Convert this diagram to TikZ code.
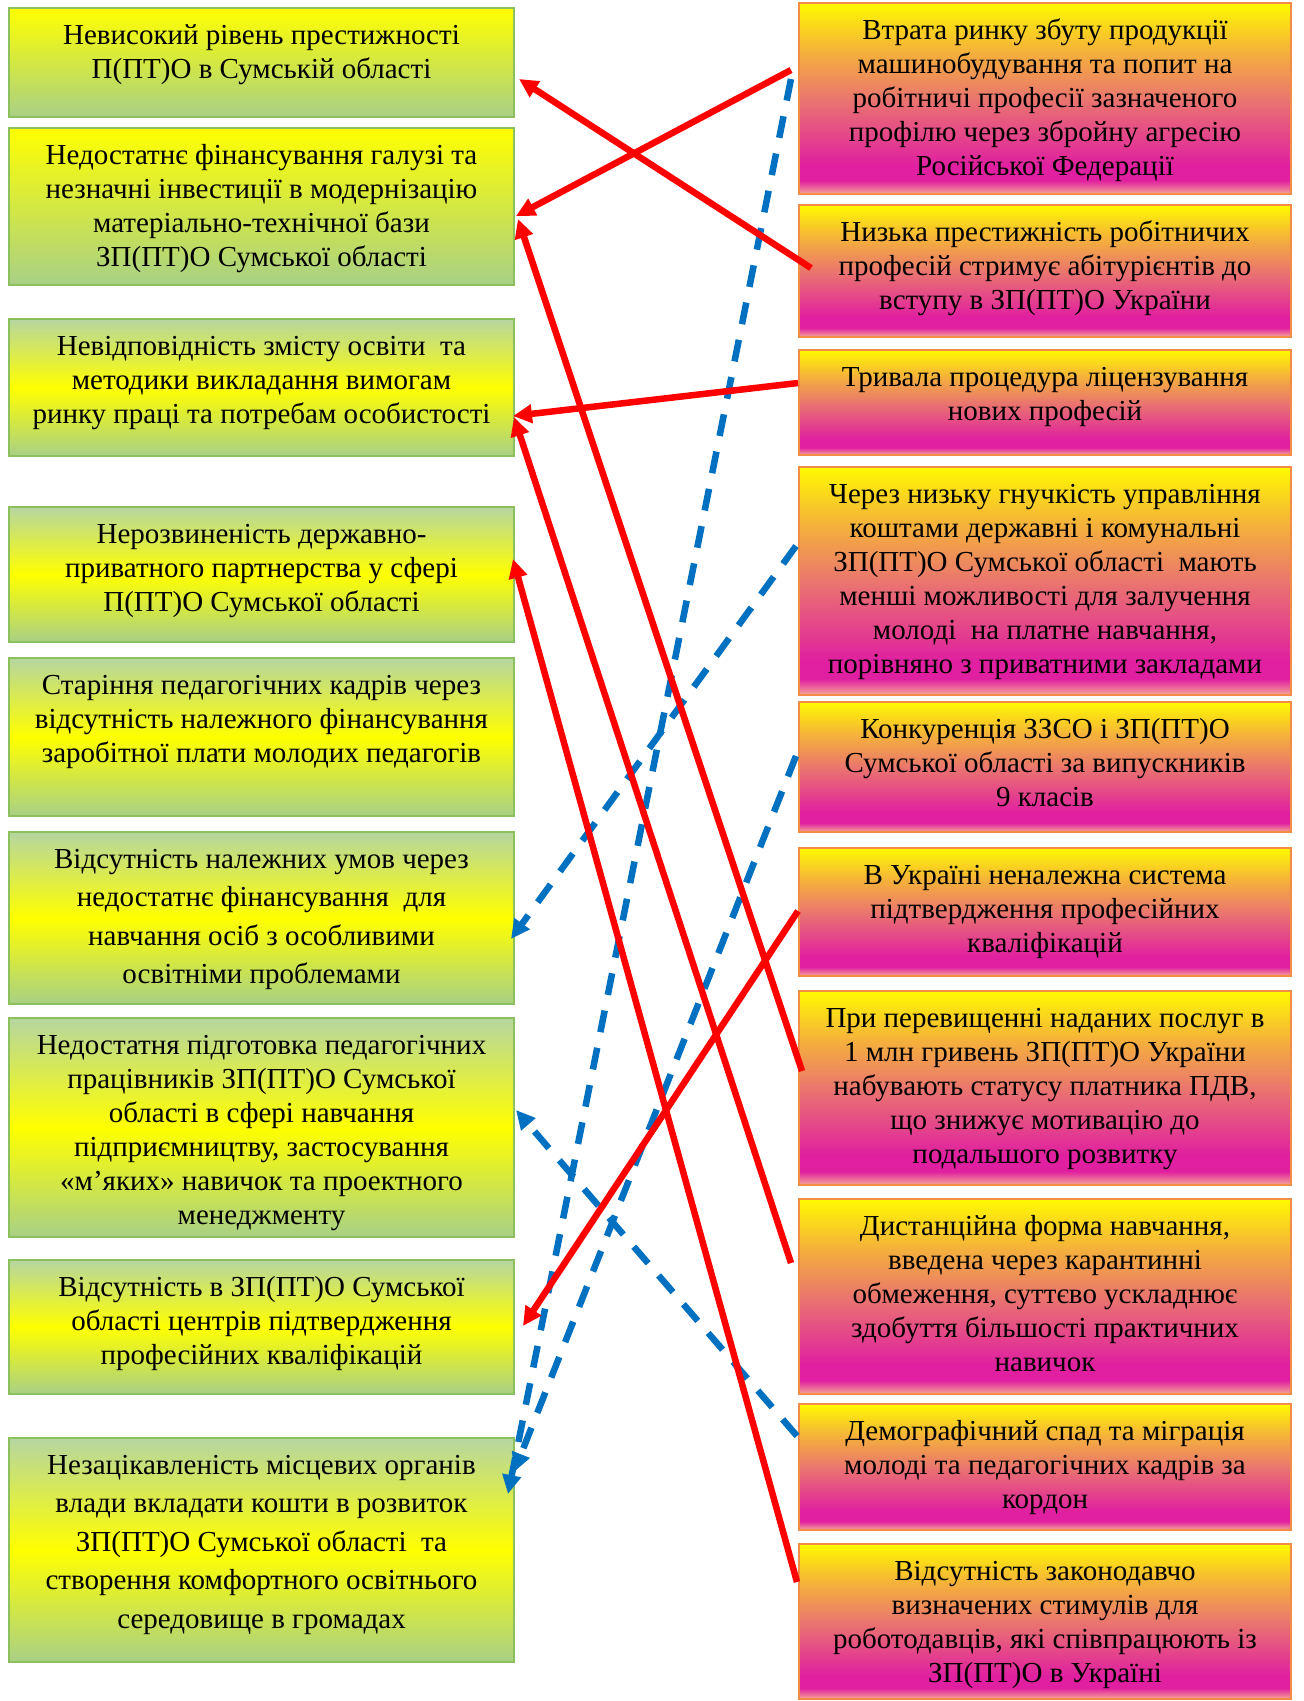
\documentclass[tikz,border=0pt]{standalone}
\usepackage{fontspec}
\setmainfont{Liberation Serif}
\usetikzlibrary{arrows.meta}
\definecolor{lG1}{RGB}{181,214,160}
\definecolor{lG2}{RGB}{168,208,134}
\definecolor{yel}{RGB}{255,255,0}
\definecolor{rY}{RGB}{255,250,0}
\definecolor{rO}{RGB}{245,178,58}
\definecolor{rS}{RGB}{234,118,110}
\definecolor{rM}{RGB}{224,32,160}
\definecolor{rB}{RGB}{246,168,150}
\definecolor{gborder}{RGB}{140,192,92}
\definecolor{oborder}{RGB}{242,140,70}
\definecolor{lred}{RGB}{255,0,0}
\definecolor{lblue}{RGB}{0,112,192}
\pgfdeclareverticalshading{lgradA}{100bp}{color(0bp)=(lG2); color(25bp)=(lG2); color(75bp)=(yel); color(100bp)=(yel)}
\pgfdeclareverticalshading{lgradB}{100bp}{color(0bp)=(lG2); color(25bp)=(lG2); color(50bp)=(yel); color(75bp)=(lG1); color(100bp)=(lG1)}
\pgfdeclareverticalshading{rgrad}{100bp}{color(0bp)=(rB); color(25bp)=(rB); color(28.5bp)=(rM); color(32.5bp)=(rM); color(50bp)=(rS); color(62.5bp)=(rO); color(75bp)=(rY); color(100bp)=(rY)}
\tikzset{
  lbox/.style={draw=gborder, line width=2pt, shade, shading=lgradB, minimum width=505pt, inner sep=0pt},
  lboxA/.style={lbox, shading=lgradA},
  rbox/.style={draw=oborder, line width=2pt, shade, shading=rgrad, minimum width=492pt, inner sep=0pt},
  txt/.style={font=\fontsize{29}{34}\selectfont, align=center, inner sep=0pt, anchor=north},
  txtw/.style={font=\fontsize{29}{38.5}\selectfont, align=center, inner sep=0pt, anchor=north},
  redarrow/.style={draw=lred, line width=6.5pt, -{Triangle[length=19pt,width=18pt]}},
  bluearrow/.style={draw=lblue, line width=6.5pt, dash pattern=on 22pt off 16pt, -{Triangle[length=19pt,width=18pt]}}
}
\begin{document}
\begin{tikzpicture}[x=1pt,y=-1pt]
\useasboundingbox[fill=white] (0,0) rectangle (1304,1701);
% left boxes
\node[lboxA, minimum height=109pt] (L1) at (261.5,62.5) {};
\node[lboxA, minimum height=157pt] (L2) at (261.5,206.5) {};
\node[lbox, minimum height=137pt] (L3) at (261.5,387.5) {};
\node[lbox, minimum height=135pt] (L4) at (261.5,574.5) {};
\node[lbox, minimum height=158pt] (L5) at (261.5,737) {};
\node[lbox, minimum height=172pt] (L6) at (261.5,918) {};
\node[lbox, minimum height=219pt] (L7) at (261.5,1127.5) {};
\node[lbox, minimum height=134pt] (L8) at (261.5,1327) {};
\node[lbox, minimum height=224pt] (L9) at (261.5,1550) {};
% right boxes
\node[rbox, minimum height=191pt] (R1) at (1045,98.5) {};
\node[rbox, minimum height=132pt] (R2) at (1045,271) {};
\node[rbox, minimum height=105pt] (R3) at (1045,402.5) {};
\node[rbox, minimum height=228pt] (R4) at (1045,581) {};
\node[rbox, minimum height=130pt] (R5) at (1045,767) {};
\node[rbox, minimum height=128pt] (R6) at (1045,912) {};
\node[rbox, minimum height=194pt] (R7) at (1045,1088) {};
\node[rbox, minimum height=195pt] (R8) at (1045,1296.5) {};
\node[rbox, minimum height=126pt] (R9) at (1045,1467) {};
\node[rbox, minimum height=155pt] (R10) at (1045,1621.5) {};
% left texts
\node[txt] (L1t) at (261.5,20.2) {\strut Невисокий рівень престижності\\П(ПТ)О в Сумській області};
\node[txt] (L2t) at (261.5,140.2) {\strut Недостатнє фінансування галузі та\\незначні інвестиції в модернізацію\\матеріально-технічної бази\\ЗП(ПТ)О Сумської області};
\node[txt] (L3t) at (261.5,331.2) {\strut Невідповідність змісту освіти\ \ та\\методики викладання вимогам\\ринку праці та потребам особистості};
\node[txt] (L4t) at (261.5,519.2) {\strut Нерозвиненість державно-\\приватного партнерства у сфері\\П(ПТ)О Сумської області};
\node[txt] (L5t) at (261.5,670.2) {\strut Старіння педагогічних кадрів через\\відсутність належного фінансування\\заробітної плати молодих педагогів};
\node[txtw] (L6t) at (261.5,841) {\strut Відсутність належних умов через\\недостатнє фінансування\ \ для\\навчання осіб з особливими\\освітніми проблемами};
\node[txt] (L7t) at (261.5,1030.2) {\strut Недостатня підготовка педагогічних\\працівників ЗП(ПТ)О Сумської\\області в сфері навчання\\підприємництву, застосування\\«м’яких» навичок та проектного\\менеджменту};
\node[txt] (L8t) at (261.5,1272.2) {\strut Відсутність в ЗП(ПТ)О Сумської\\області центрів підтвердження\\професійних кваліфікацій};
\node[txtw] (L9t) at (261.5,1447) {\strut Незацікавленість місцевих органів\\влади вкладати кошти в розвиток\\ЗП(ПТ)О Сумської області\ \ та\\створення комфортного освітнього\\середовище в громадах};
% right texts
\node[txt] (R1t) at (1045,15.2) {\strut Втрата ринку збуту продукції\\машинобудування та попит на\\робітничі професії зазначеного\\профілю через збройну агресію\\Російської Федерації};
\node[txt] (R2t) at (1045,217.2) {\strut Низька престижність робітничих\\професій стримує абітурієнтів до\\вступу в ЗП(ПТ)О України};
\node[txt] (R3t) at (1045,362.2) {\strut Тривала процедура ліцензування\\нових професій};
\node[txt] (R4t) at (1045,479.2) {\strut Через низьку гнучкість управління\\коштами державні і комунальні\\ЗП(ПТ)О Сумської області\ \ мають\\менші можливості для залучення\\молоді\ \ на платне навчання,\\порівняно з приватними закладами};
\node[txt] (R5t) at (1045,714.2) {\strut Конкуренція ЗЗСО і ЗП(ПТ)О\\Сумської області за випускників\\9 класів};
\node[txt] (R6t) at (1045,860.2) {\strut В Україні неналежна система\\підтвердження професійних\\кваліфікацій};
\node[txt] (R7t) at (1045,1003.2) {\strut При перевищенні наданих послуг в\\1 млн гривень ЗП(ПТ)О України\\набувають статусу платника ПДВ,\\що знижує мотивацію до\\подальшого розвитку};
\node[txt] (R8t) at (1045,1211.2) {\strut Дистанційна форма навчання,\\введена через карантинні\\обмеження, суттєво ускладнює\\здобуття більшості практичних\\навичок};
\node[txt] (R9t) at (1045,1416.2) {\strut Демографічний спад та міграція\\молоді та педагогічних кадрів за\\кордон};
\node[txt] (R10t) at (1045,1556.2) {\strut Відсутність законодавчо\\визначених стимулів для\\роботодавців, які співпрацюють із\\ЗП(ПТ)О в Україні};
% blue dashed connectors
\draw[bluearrow] ([shift={(-7,77)}]R1.north west) -- ([shift={(-7,57)}]L9.north east);
\draw[bluearrow] ([shift={(-2,80)}]R4.north west) -- ([shift={(-4,108)}]L6.north east);
\draw[bluearrow] ([shift={(-2,55)}]R5.north west) -- ([shift={(-1,35)}]L9.north east);
\draw[bluearrow] ([shift={(-1,33)}]R9.north west) -- ([shift={(1,93)}]L7.north east);
% red connectors
\draw[redarrow] ([shift={(-7,68)}]R1.north west) -- ([shift={(1,89)}]L2.north east);
\draw[redarrow] ([shift={(13,64)}]R2.north west) -- ([shift={(4,72)}]L1.north east);
\draw[redarrow] ([shift={(0,34)}]R3.north west) -- ([shift={(-2,98)}]L3.north east);
\draw[redarrow] ([shift={(4,81)}]R7.north west) -- ([shift={(3,92)}]L2.north east);
\draw[redarrow] ([shift={(-7,65)}]R8.north west) -- ([shift={(-1,99)}]L3.north east);
\draw[redarrow] ([shift={(-1,39)}]R10.north west) -- ([shift={(-2,53)}]L4.north east);
\draw[redarrow] ([shift={(0,64)}]R6.north west) -- ([shift={(8,67)}]L8.north east);
\end{tikzpicture}
\end{document}
